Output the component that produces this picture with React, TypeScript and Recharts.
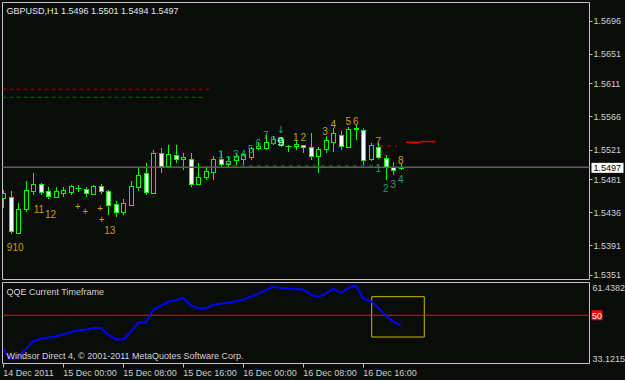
import React from 'react';
import {
  ComposedChart,
  LineChart,
  Line,
  Bar,
  XAxis,
  YAxis,
  ReferenceLine,
  ReferenceArea,
  ReferenceDot,
} from 'recharts';

// ---------- data ----------
const titleText = 'GBPUSD,H1  1.5496 1.5501 1.5494 1.5497';
const indicatorTitle = 'QQE Current Timeframe';
const copyrightText = 'Windsor Direct 4, \u00a9 2001-2011 MetaQuotes Software Corp.';

const opens = [
  1.5455, 1.5457, 1.5408, 1.544, 1.5465, 1.5475, 1.5465, 1.5457, 1.5462, 1.5463,
  1.5469, 1.5468, 1.5461, 1.5472, 1.5465, 1.5447, 1.5437, 1.5446, 1.547, 1.5489,
  1.5462, 1.5516, 1.5499, 1.5514, 1.5508, 1.5509, 1.5474, 1.5484, 1.5491, 1.5508,
  1.5501, 1.5507, 1.5509, 1.5511, 1.5523, 1.5523, 1.553, 1.5527, 1.5526, 1.5526,
  1.5527, 1.5524, 1.5513, 1.5522, 1.5532, 1.5541, 1.5524, 1.5549, 1.5548, 1.5508,
  1.5525, 1.551, 1.5497, 1.5496,
];
const highs = [
  1.5466, 1.5465, 1.5448, 1.5479, 1.549, 1.5476, 1.5471, 1.5471, 1.5471, 1.5473,
  1.5473, 1.5471, 1.5473, 1.5474, 1.5466, 1.5452, 1.5454, 1.5479, 1.5497, 1.5503,
  1.552, 1.5523, 1.5527, 1.5527, 1.5517, 1.5517, 1.5503, 1.5499, 1.5513, 1.5519,
  1.5511, 1.5516, 1.5516, 1.5524, 1.5532, 1.5541, 1.5539, 1.5538, 1.5528, 1.5534,
  1.5528, 1.5543, 1.5525, 1.5539, 1.555, 1.5546, 1.5552, 1.5554, 1.5551, 1.553,
  1.553, 1.5514, 1.5504, 1.5501,
];
const lows = [
  1.5442, 1.5407, 1.5407, 1.5437, 1.5459, 1.546, 1.5454, 1.5455, 1.5457, 1.546,
  1.5463, 1.5457, 1.5459, 1.5461, 1.5432, 1.543, 1.5432, 1.5444, 1.5465, 1.546,
  1.5461, 1.549, 1.5497, 1.5503, 1.5493, 1.5471, 1.5473, 1.548, 1.548, 1.5498,
  1.5496, 1.55, 1.55, 1.5507, 1.5521, 1.5521, 1.5527, 1.5525, 1.5518, 1.5521,
  1.5517, 1.5507, 1.549, 1.5516, 1.5518, 1.5521, 1.5523, 1.5534, 1.55, 1.5505,
  1.5509, 1.548, 1.5487, 1.5494,
];
const closes = [
  1.5462, 1.541, 1.5441, 1.5466, 1.5474, 1.5463, 1.5458, 1.5465, 1.5466, 1.5472,
  1.5469, 1.5462, 1.5472, 1.5465, 1.5446, 1.5437, 1.5448, 1.5472, 1.5487, 1.5463,
  1.5517, 1.5499, 1.5515, 1.5508, 1.5511, 1.5475, 1.5484, 1.5492, 1.5508, 1.5501,
  1.5505, 1.5513, 1.5515, 1.5523, 1.5526, 1.5532, 1.5536, 1.5534, 1.5526, 1.5529,
  1.5525, 1.5513, 1.5522, 1.5534, 1.5543, 1.5526, 1.5549, 1.555, 1.5507, 1.5527,
  1.5511, 1.5497, 1.5494, 1.5497,
];
const qqeValues = [
  38.08, 34.54, 35.25, 38.08, 40.91, 41.79, 42.22, 42.68, 43.28, 44.1,
  44.63, 44.98, 45.51, 45.51, 43.21, 41.62, 41.51, 44.1, 47.53, 47.46,
  51.88, 53.3, 54.71, 55.24, 56.02, 53.4, 52.34, 52.41, 53.65, 54.0,
  54.36, 54.89, 55.42, 56.48, 57.54, 58.78, 59.92, 59.49, 59.31, 59.14,
  58.96, 57.19, 56.38, 57.54, 59.31, 57.79, 59.49, 60.38, 55.77, 54.89,
  52.59, 49.76, 47.74, 46.33,
];

const priceTicks = [1.5351, 1.5391, 1.5436, 1.5481, 1.5521, 1.5566, 1.5611, 1.5651, 1.5696];
const bidPrice = 1.5497;
const qqeTicks = [33.1215, 61.4382];
const qqeLevel = 50;
const timeTickIdx = [0, 8, 16, 24, 32, 40, 48];
const timeTickLabels = [
  '14 Dec 2011',
  '15 Dec 00:00',
  '15 Dec 08:00',
  '15 Dec 16:00',
  '16 Dec 00:00',
  '16 Dec 08:00',
  '16 Dec 16:00',
];

// wave-count labels: [text, bar position, price]
const orangeLabels: [string, number, number][] = [
  ['9', 0.83, 1.5388],
  ['10', 1.96, 1.5388],
  ['11', 4.75, 1.544],
  ['12', 6.3, 1.5433],
  ['+', 9.9, 1.5444],
  ['+', 10.9, 1.5437],
  ['+', 12.9, 1.5441],
  ['+', 13.1, 1.5426],
  ['13', 14.2, 1.5411],
  ['1', 39.0, 1.5537],
  ['2', 40.0, 1.5537],
  ['3', 42.9, 1.5546],
  ['4', 44.0, 1.5555],
  ['5', 46.0, 1.5559],
  ['6', 47.0, 1.556],
  ['7', 50.0, 1.5532],
  ['8', 53.0, 1.5506],
];
const greenLabels: [string, number, number][] = [
  ['1', 29.0, 1.5515],
  ['2', 30.0, 1.5507],
  ['3', 31.0, 1.5514],
  ['4', 32.0, 1.5514],
  ['5', 33.0, 1.5522],
  ['6', 34.0, 1.553],
  ['7', 35.0, 1.554],
  ['8', 36.0, 1.5534],
  ['\u2193', 37.0, 1.5549],
  ['1', 50.0, 1.5495],
  ['2', 51.0, 1.5468],
  ['3', 52.0, 1.5474],
  ['4', 53.0, 1.5481],
];
const highlightLabel: [string, number, number] = ['9', 37.0, 1.5532];

// level lines: [price, from bar, to bar, colour, dash, width]
const levelLines: [number, number, number, string, string, number][] = [
  [1.5603, -0.1, 27.6, '#b00000', '4 3', 1],
  [1.5592, -0.1, 26.5, '#0a6a0a', '4 3', 1],
  [1.5499, 30.6, 49.8, '#144a14', '4 4', 2],
  [1.5526, 50.1, 52.5, '#d00000', '4 4', 1],
  [1.5531, 53.7, 55.6, '#e00000', '', 1.5],
  [1.5532, 55.6, 57.6, '#e00000', '', 1.5],
];

// box drawn on the indicator: [bar from, bar to, value from, value to]
const qqeBox = [49.12, 56.13, 42.38, 56.47];

// ---------- chart config ----------
const BG = '#0a0c0a';
const FONT = '"Liberation Sans", Arial, sans-serif';
const X_DOMAIN: [number, number] = [-0.107, 78.16];
const P_DOMAIN: [number, number] = [1.53448, 1.57207];
const Q_DOMAIN: [number, number] = [33.1215, 61.4382];

const candles = opens.map((o, i) => ({
  i,
  open: o,
  high: highs[i],
  low: lows[i],
  close: closes[i],
  range: [lows[i], highs[i]],
}));
const qqeData = qqeValues.map((v, i) => ({ i, qqe: v }));

const CandleShape = (props: any) => {
  const { x, y, width, height, payload } = props;
  if (x == null || y == null || !payload) return null;
  const { open, high, low, close } = payload;
  const span = high - low || 1e-9;
  const py = (v: number) => y + ((high - v) / span) * height;
  const cx = Math.round(x + width / 2) + 0.5;
  const top = Math.round(py(Math.max(open, close)));
  const bot = Math.round(py(Math.min(open, close)));
  const bull = close >= open;
  return (
    <g>
      <line x1={cx} x2={cx} y1={Math.round(py(high))} y2={Math.round(py(low))} stroke="#00ff00" strokeWidth={1} />
      {bot - top < 1 ? (
        <line x1={cx - 3} x2={cx + 3} y1={top + 0.5} y2={top + 0.5} stroke="#00ff00" strokeWidth={1} />
      ) : (
        <rect x={cx - 2} y={top + 0.5} width={4} height={bot - top} fill={bull ? BG : '#ffffff'} stroke="#00ff00" strokeWidth={1} />
      )}
    </g>
  );
};

const PriceTick = (props: any) => {
  const { x, y, payload } = props;
  const yy = Math.round(y) + 0.5;
  return (
    <g>
      <line x1={x} x2={x + 3} y1={yy} y2={yy} stroke="#c0c0c0" />
      <text x={x + 4} y={y + 3.5} fill="#d0d0d0" fontSize={9} fontFamily={FONT}>
        {payload.value.toFixed(4)}
      </text>
    </g>
  );
};

const QqeTick = (props: any) => {
  const { x, y, payload } = props;
  const isTop = payload.value === qqeTicks[1];
  return (
    <text x={x + 3} y={isTop ? y + 8 : y - 2} fill="#d0d0d0" fontSize={9} fontFamily={FONT}>
      {payload.value.toFixed(4)}
    </text>
  );
};

const TimeTick = (props: any) => {
  const { x, y, payload } = props;
  const idx = timeTickIdx.indexOf(payload.value);
  const xx = Math.round(x) + 0.5;
  return (
    <g>
      <line x1={xx} x2={xx} y1={y} y2={y + 4} stroke="#c0c0c0" />
      <text x={x} y={y + 12.5} fill="#d0d0d0" fontSize={9} fontFamily={FONT}>
        {timeTickLabels[idx]}
      </text>
    </g>
  );
};

const BidLabel = (props: any) => {
  const vb = props.viewBox || {};
  const x = (vb.x || 0) + (vb.width || 0) + 2;
  const y = vb.y || 0;
  return (
    <g>
      <rect x={x} y={y - 4.5} width={32} height={10} fill="#ffffff" />
      <text x={x + 2} y={y + 3.5} fill="#000000" fontSize={9} fontFamily={FONT}>
        {bidPrice.toFixed(4)}
      </text>
    </g>
  );
};

const LevelLabel = (props: any) => {
  const vb = props.viewBox || {};
  const x = (vb.x || 0) + (vb.width || 0) + 2;
  const y = vb.y || 0;
  return (
    <g>
      <rect x={x} y={y - 5} width={11} height={10} fill="#ff0000" />
      <text x={x + 0.5} y={y + 3.5} fill="#ffffff" fontSize={9} fontFamily={FONT}>
        {String(qqeLevel)}
      </text>
    </g>
  );
};

const textShape = (t: string, color: string, size: number, weight: string = 'normal') => (p: any) => (
  <text
    x={p.cx}
    y={p.cy + size * 0.36}
    textAnchor="middle"
    fill={color}
    fontSize={size}
    fontWeight={weight}
    fontFamily={t === '\u2193' ? '"DejaVu Sans", sans-serif' : FONT}
  >
    {t}
  </text>
);

export default function App() {
  return (
    <div
      style={{
        position: 'fixed',
        left: 0,
        top: 0,
        width: 625,
        height: 380,
        background: BG,
        overflow: 'hidden',
      }}
    >
      <div style={{ position: 'absolute', left: 0, top: 0 }}>
        <ComposedChart
          width={625}
          height={282}
          data={candles}
          margin={{ top: 2.5, right: 0, left: 2.5, bottom: 2.5 }}
        >
          <XAxis type="number" dataKey="i" domain={X_DOMAIN} allowDataOverflow hide />
          <YAxis
            type="number"
            orientation="right"
            width={35.5}
            domain={P_DOMAIN}
            allowDataOverflow
            ticks={priceTicks}
            interval={0}
            axisLine={false}
            tickLine={false}
            tickSize={0}
            tickMargin={0}
            tick={<PriceTick />}
          />
          <ReferenceArea
            x1={X_DOMAIN[0]}
            x2={X_DOMAIN[1]}
            y1={P_DOMAIN[0]}
            y2={P_DOMAIN[1]}
            fill="none"
            stroke="#c4c4c4"
            strokeWidth={1}
            ifOverflow="visible"
          />
          {levelLines.map(([p, a, b, c, d, w], k) => (
            <ReferenceLine
              key={'lv' + k}
              segment={[{ x: a, y: p }, { x: b, y: p }]}
              stroke={c}
              strokeDasharray={d || undefined}
              strokeWidth={w}
              ifOverflow="visible"
            />
          ))}
          <ReferenceLine y={bidPrice} stroke="#5c5c5c" strokeWidth={1.5} label={<BidLabel />} />
          <Bar dataKey="range" barSize={5} isAnimationActive={false} shape={<CandleShape />} />
          {orangeLabels.map(([t, i, p], k) => (
            <ReferenceDot key={'ol' + k} x={i} y={p} r={0} ifOverflow="visible" shape={textShape(t, '#c8a000', 10)} />
          ))}
          {greenLabels.map(([t, i, p], k) => (
            <ReferenceDot key={'gl' + k} x={i} y={p} r={0} ifOverflow="visible" shape={textShape(t, '#20a070', 10)} />
          ))}
          <ReferenceDot
            x={highlightLabel[1]}
            y={highlightLabel[2]}
            r={0}
            ifOverflow="visible"
            shape={textShape(highlightLabel[0], '#80f0a0', 13, 'bold')}
          />
        </ComposedChart>
      </div>
      <div style={{ position: 'absolute', left: 0, top: 280 }}>
        <LineChart
          width={625}
          height={100}
          data={qqeData}
          margin={{ top: 2.5, right: 0, left: 2.5, bottom: 0 }}
        >
          <XAxis
            type="number"
            dataKey="i"
            domain={X_DOMAIN}
            allowDataOverflow
            height={16.5}
            ticks={timeTickIdx}
            interval={0}
            axisLine={false}
            tickLine={false}
            tickSize={0}
            tickMargin={0}
            tick={<TimeTick />}
          />
          <YAxis
            type="number"
            orientation="right"
            width={35.5}
            domain={Q_DOMAIN}
            allowDataOverflow
            ticks={qqeTicks}
            interval={0}
            axisLine={false}
            tickLine={false}
            tickSize={0}
            tickMargin={0}
            tick={<QqeTick />}
          />
          <ReferenceArea
            x1={X_DOMAIN[0]}
            x2={X_DOMAIN[1]}
            y1={Q_DOMAIN[0]}
            y2={Q_DOMAIN[1]}
            fill="none"
            stroke="#c4c4c4"
            strokeWidth={1}
            ifOverflow="visible"
          />
          <ReferenceLine y={qqeLevel} stroke="#ff0000" strokeWidth={1} label={<LevelLabel />} />
          <ReferenceArea
            x1={qqeBox[0]}
            x2={qqeBox[1]}
            y1={qqeBox[2]}
            y2={qqeBox[3]}
            fill="none"
            stroke="#c8c000"
            strokeWidth={1}
          />
          <Line
            type="linear"
            dataKey="qqe"
            stroke="#0000ff"
            strokeWidth={2}
            dot={false}
            isAnimationActive={false}
          />
        </LineChart>
      </div>
      <svg
        width={625}
        height={380}
        style={{ position: 'absolute', left: 0, top: 0, pointerEvents: 'none' }}
      >
        <text x={6.5} y={13.5} fill="#e4e4e4" fontSize={9} fontFamily={FONT}>
          {titleText}
        </text>
        <text x={6.5} y={294.5} fill="#d4d4d4" fontSize={9} fontFamily={FONT}>
          {indicatorTitle}
        </text>
        <text x={6.5} y={359} fill="#d4d4d4" fontSize={9} fontFamily={FONT}>
          {copyrightText}
        </text>
      </svg>
    </div>
  );
}
